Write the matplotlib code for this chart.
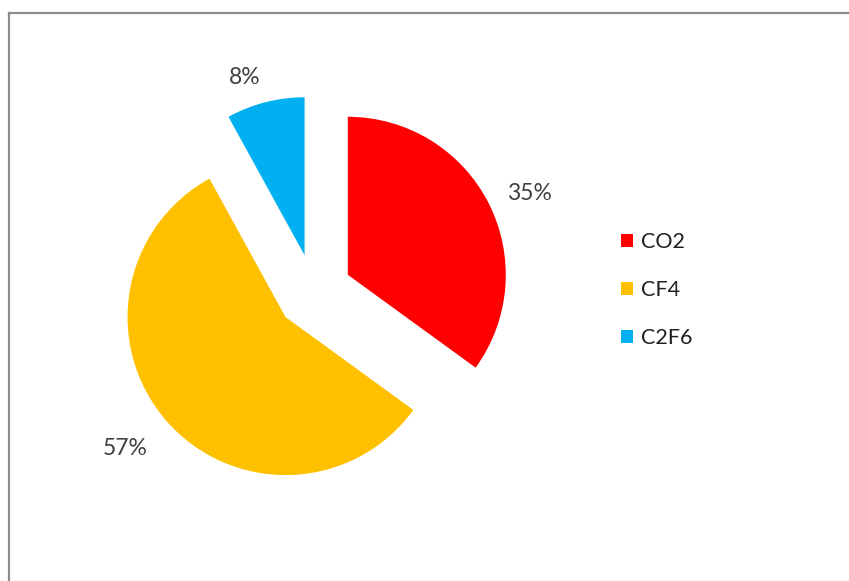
import numpy as np
import matplotlib.pyplot as plt
from matplotlib.lines import Line2D

# gas share data
gases = ['CO2', 'CF4', 'C2F6']
shares = [35, 57, 8]
colors = ['#FF0000', '#FFC000', '#00B0F0']

# label placement per wedge: distance (in radii) and angle nudge (deg)
label_dist = [1.26, 1.31, 1.19]
label_nudge = [-3.0, -2.0, 4.3]

plt.rcParams['font.family'] = ['Lato', 'DejaVu Sans']

W, H = 849, 581
fig = plt.figure(figsize=(W / 100, H / 100), dpi=100)
ax = fig.add_axes([0, 0, 1, 1])

wedges, texts, autotexts = ax.pie(
    shares,
    colors=colors,
    startangle=90,
    counterclock=False,
    explode=[0.24] * len(shares),
    autopct='%.0f%%',
    pctdistance=1.26,
    textprops={'fontsize': 16.5, 'color': '#404040'},
)

# move each percentage label out from its own wedge centre
for w, t, d, nudge in zip(wedges, autotexts, label_dist, label_nudge):
    mid = np.deg2rad((w.theta1 + w.theta2) / 2 + nudge)
    x0, y0 = w.center
    t.set_position((x0 + d * w.r * np.cos(mid), y0 + d * w.r * np.sin(mid)))

# put the pie centre at (314, 292) px with a 158 px radius
r = 158.0
cx, cy = 314.0, H - 292.0
ax.set_xlim(-cx / r, (W - cx) / r)
ax.set_ylim(-cy / r, (H - cy) / r)
ax.set_aspect('auto')
ax.axis('off')

fig.legend(
    wedges, gases,
    loc='center left',
    bbox_to_anchor=(621 / W, 1 - 290 / H),
    bbox_transform=fig.transFigure,
    frameon=False,
    fontsize=15.5,
    handlelength=0.55,
    handleheight=0.55,
    handletextpad=0.4,
    labelspacing=1.3,
    borderpad=0,
    borderaxespad=0,
    labelcolor='#202020',
)

# chart area border (top and left edges only)
fig.add_artist(Line2D([8.5 / W, 1], [1 - 12.5 / H, 1 - 12.5 / H],
                      transform=fig.transFigure, color='#8c8c8c', lw=1.6))
fig.add_artist(Line2D([8.5 / W, 8.5 / W], [0, 1 - 12.5 / H],
                      transform=fig.transFigure, color='#8c8c8c', lw=1.6))

fig.savefig('out.png', dpi=100)
